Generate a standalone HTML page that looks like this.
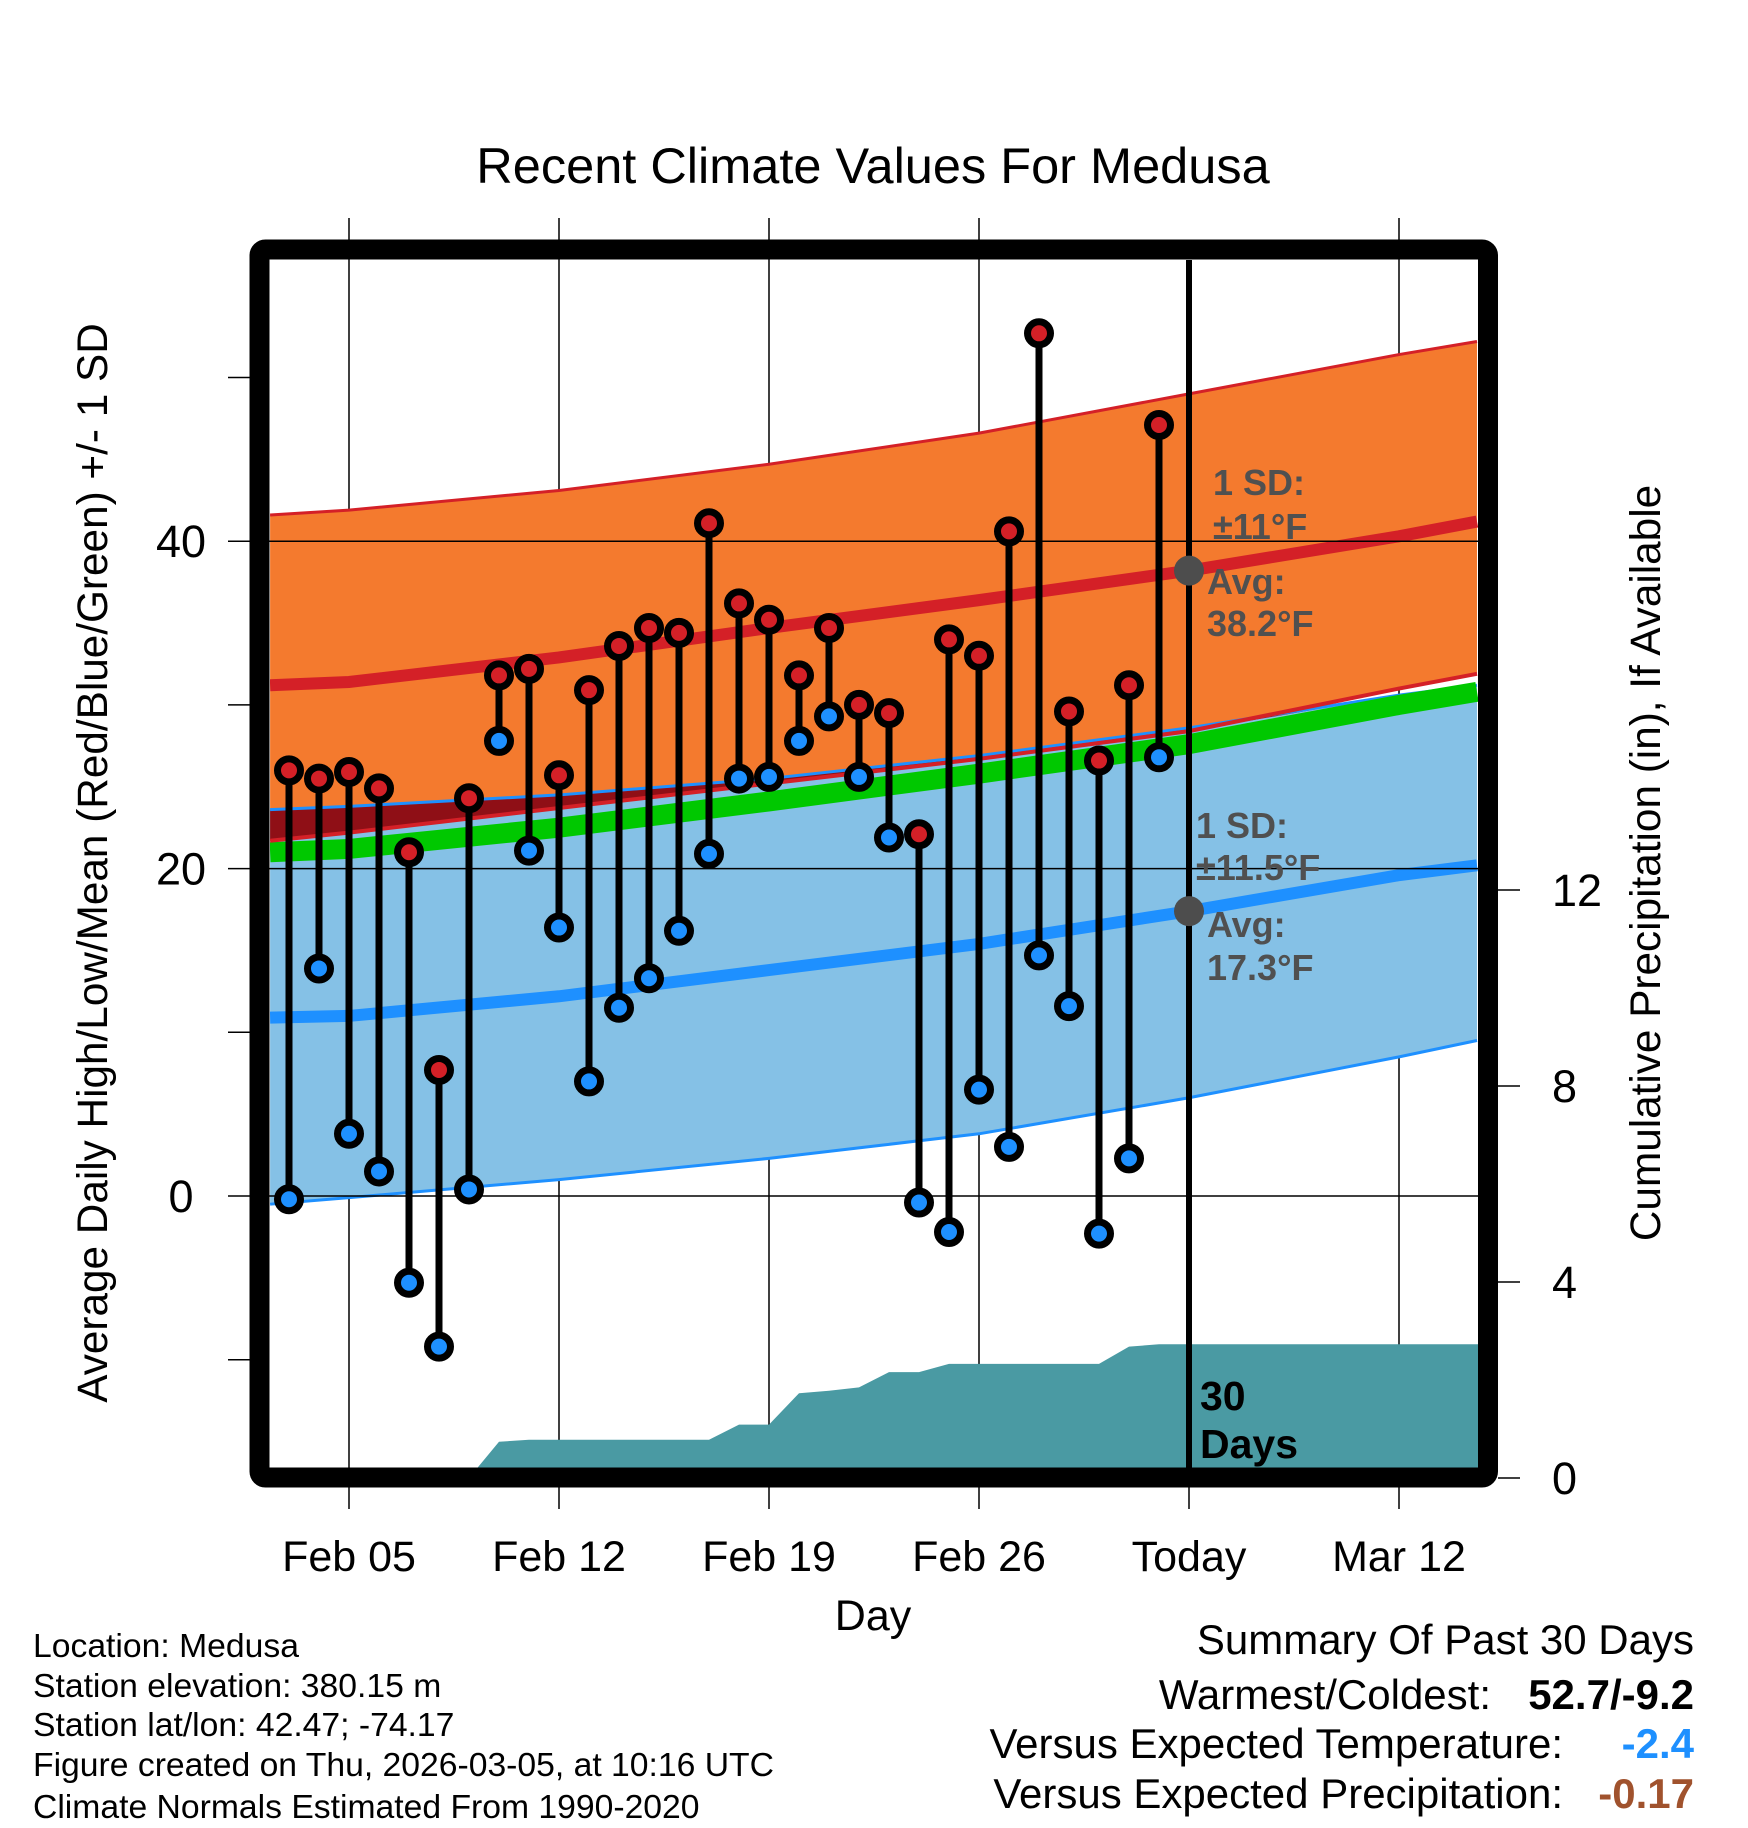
<!DOCTYPE html>
<html><head><meta charset="utf-8"><style>
html,body{margin:0;padding:0;background:#fff;}
svg{display:block;font-family:"Liberation Sans",sans-serif;}
</style></head><body>
<svg id="chart" xmlns="http://www.w3.org/2000/svg" width="1748" height="1828" viewBox="0 0 1748 1828">
<defs><clipPath id="plotclip"><rect x="270" y="260" width="1208" height="1208"/></clipPath></defs>
<rect width="1748" height="1828" fill="#fff"/>
<text x="873" y="183" font-size="50.5" text-anchor="middle">Recent Climate Values For Medusa</text>
<g id="grid"></g>
<g id="plot" clip-path="url(#plotclip)"></g>
<g id="fg"></g>
<rect x="259.5" y="249.5" width="1228.5" height="1228" rx="6" fill="none" stroke="#000" stroke-width="20"/>
<g id="axes"></g>
<text x="873" y="1630" font-size="43" text-anchor="middle">Day</text>
<text transform="translate(107,863) rotate(-90)" font-size="42.3" text-anchor="middle">Average Daily High/Low/Mean (Red/Blue/Green) +/- 1 SD</text>
<text transform="translate(1660,863) rotate(-90)" font-size="42.3" text-anchor="middle">Cumulative Precipitation (in), If Available</text>
<g font-size="33.7">
<text x="33" y="1657">Location: Medusa</text>
<text x="33" y="1697">Station elevation: 380.15 m</text>
<text x="33" y="1736">Station lat/lon: 42.47; -74.17</text>
<text x="33" y="1776">Figure created on Thu, 2026-03-05, at 10:16 UTC</text>
<text x="33" y="1818">Climate Normals Estimated From 1990-2020</text>
</g>
<g font-size="42" text-anchor="end">
<text x="1694" y="1654">Summary Of Past 30 Days</text>
<text x="1491" y="1709">Warmest/Coldest:</text>
<text x="1694" y="1709" font-weight="bold">52.7/-9.2</text>
<text x="1563" y="1758">Versus Expected Temperature:</text>
<text x="1694" y="1758" font-weight="bold" fill="#1e90ff">-2.4</text>
<text x="1563" y="1808">Versus Expected Precipitation:</text>
<text x="1694" y="1808" font-weight="bold" fill="#a0522d">-0.17</text>
</g>
</svg>
<script>
// observed data, days Feb 03 .. Mar 04
const highs = [26.0,25.5,25.9,24.9,21.0,7.7,24.3,31.8,32.2,25.7,30.9,33.6,34.7,34.4,41.1,36.2,35.2,31.8,34.7,30.0,29.5,22.1,34.0,33.0,40.6,52.7,29.6,26.6,31.2,47.1];
const lows  = [-0.2,13.9,3.8,1.5,-5.3,-9.2,0.4,27.8,21.1,16.4,7.0,11.5,13.3,16.2,20.9,25.5,25.6,27.8,29.3,25.6,21.9,-0.4,-2.2,6.5,3.0,14.7,11.6,-2.3,2.3,26.8];
const precipCum = [0,0,0,0,0,0,0,0.74,0.78,0.78,0.78,0.78,0.78,0.78,0.78,1.09,1.09,1.73,1.78,1.85,2.16,2.16,2.33,2.33,2.33,2.33,2.33,2.33,2.68,2.73];
// normals sampled at day offsets from Feb 05
const normDays = [-2.63,0,7,14,21,28,35,37.6];
const hiUpper = [41.6,41.9,43.1,44.7,46.6,49.0,51.4,52.2];
const hiMean  = [31.2,31.4,32.9,34.7,36.4,38.2,40.3,41.2];
const hiLower = [21.7,22.2,23.7,25.2,26.7,28.4,31.0,31.9];
const loUpper = [23.6,23.8,24.5,25.5,26.9,28.6,30.6,31.2];
const loMean  = [10.9,11.0,12.2,13.8,15.4,17.4,19.6,20.2];
const loLower = [-0.5,-0.1,1.0,2.3,3.8,6.0,8.5,9.5];
const greenMean = [21.0,21.2,22.5,24.1,25.8,27.6,30.0,30.8];
const xTickLabels = ["Feb 05","Feb 12","Feb 19","Feb 26","Today","Mar 12"];
const yTicks = [0,20,40];
const yMinor = [-10,10,30,50];
const precipTicks = [0,4,8,12];

const NS="http://www.w3.org/2000/svg";
const X = d => 349 + d*30;          // d = days from Feb 05
const Y = v => 1196 - v*16.37;      // temperature
const P = p => 1478 - p*49;         // precipitation
const firstDay = -2;
function mk(parent, tag, attrs){const e=document.createElementNS(NS,tag);for(const k in attrs)e.setAttribute(k,attrs[k]);parent.appendChild(e);return e;}
const grid=document.getElementById('grid'), plot=document.getElementById('plot'), fg=document.getElementById('fg'), axes=document.getElementById('axes');
function line(arr){return normDays.map((d,i)=>X(d)+','+Y(arr[i])).join(' ');}
function band(top,bot){return normDays.map((d,i)=>X(d)+','+Y(top[i])).concat(normDays.slice().reverse().map((d,j)=>{const i=normDays.length-1-j;return X(d)+','+Y(bot[i]);})).join(' ');}

let pts=[];
const p0=firstDay;
pts.push(X(p0)+','+P(0));
precipCum.forEach((p,i)=>pts.push(X(p0+i)+','+P(p)));
pts.push(X(38)+','+P(precipCum[precipCum.length-1]));
pts.push(X(38)+','+P(-1));pts.push(X(p0)+','+P(-1));
let e;
e=mk(plot,'polygon',{points:pts.join(' '),fill:'#4a9aa3'});



e=mk(plot,'polygon',{points:band(hiUpper,hiLower),fill:'#f47a2e'});


e=mk(plot,'polygon',{points:band(loUpper,loLower),fill:'#85c1e6'});


const ovBot=loUpper.map((v,i)=>Math.min(v,hiLower[i]));
e=mk(plot,'polygon',{points:band(loUpper,ovBot),fill:'#8f0f16'});


e=mk(plot,'polyline',{points:line(loUpper),fill:'none',stroke:'#1e90ff','stroke-width':3});


e=mk(plot,'polyline',{points:line(greenMean),fill:'none',stroke:'#00c800','stroke-width':20});


e=mk(plot,'polyline',{points:line(hiLower),fill:'none',stroke:'#d42027','stroke-width':4});


e=mk(plot,'polyline',{points:line(hiUpper),fill:'none',stroke:'#d42027','stroke-width':3});


e=mk(plot,'polyline',{points:line(loLower),fill:'none',stroke:'#1e90ff','stroke-width':3});


e=mk(plot,'polyline',{points:line(hiMean),fill:'none',stroke:'#d42027','stroke-width':12});


e=mk(plot,'polyline',{points:line(loMean),fill:'none',stroke:'#1e90ff','stroke-width':12});



xTickLabels.forEach((lab,i)=>{
  const x=X(i*7);
  const isToday = lab==='Today';
  let g=mk(isToday?fg:grid,'line',{x1:x,x2:x,y1:isToday?260:218,y2:isToday?1468:1509,stroke:'#000','stroke-width':isToday?6:1.5});
  
  
  if(isToday){g=mk(axes,'line',{x1:x,x2:x,y1:1487,y2:1509,stroke:'#000','stroke-width':1.5});
    
    }
  const t=mk(axes,'text',{x:x,y:1571,'font-size':43,'text-anchor':'middle'});
  t.textContent=lab;
  
  
});
yTicks.forEach(v=>{
  let g=mk(fg,'line',{x1:228,x2:1478,y1:Y(v),y2:Y(v),stroke:'#000','stroke-width':1.5});
  
  
  const t=mk(axes,'text',{x:181,y:Y(v)+16,'font-size':45,'text-anchor':'middle'});
  t.textContent=v;
  
  
});
yMinor.forEach(v=>{
  const g=mk(axes,'line',{x1:228,x2:250,y1:Y(v),y2:Y(v),stroke:'#000','stroke-width':1.5});
  
  
});
precipTicks.forEach(p=>{
  const g=mk(axes,'line',{x1:1498,x2:1520,y1:P(p),y2:P(p),stroke:'#000','stroke-width':1.5});
  
  
  const t=mk(axes,'text',{x:1552,y:P(p)+16,'font-size':45});
  t.textContent=p;
  
  
});

highs.forEach((h,i)=>{
  const x=X(firstDay+i);
  let s=mk(fg,'line',{x1:x,x2:x,y1:Y(h),y2:Y(lows[i]),stroke:'#000','stroke-width':7});
  
  
  let c=mk(fg,'circle',{cx:x,cy:Y(h),r:11.5,fill:'#d42027',stroke:'#000','stroke-width':7});
  
  
  c=mk(fg,'circle',{cx:x,cy:Y(lows[i]),r:11.5,fill:'#1e90ff',stroke:'#000','stroke-width':7});
  
  
});

const todayX=X(28);
e=mk(fg,'circle',{cx:todayX,cy:Y(hiMean[5]),r:15,fill:'#4d4d4d'});


e=mk(fg,'circle',{cx:todayX,cy:Y(loMean[5]),r:15,fill:'#4d4d4d'});


const ann=[["1 SD:",1213,495],["±11°F",1213,539],["Avg:",1207,594],["38.2°F",1207,636],
           ["1 SD:",1196,838],["±11.5°F",1196,880],["Avg:",1207,937],["17.3°F",1207,980]];
ann.forEach(a=>{
  const t=mk(fg,'text',{x:a[1],y:a[2],'font-size':36,'font-weight':'bold',fill:'#505050'});
  t.textContent=a[0];
  
  
});
[["30",1410],["Days",1458]].forEach(a=>{
  const t=mk(fg,'text',{x:1200,y:a[1],'font-size':41,'font-weight':'bold',fill:'#000'});
  t.textContent=a[0];
  
  
});
</script>
</body></html>
